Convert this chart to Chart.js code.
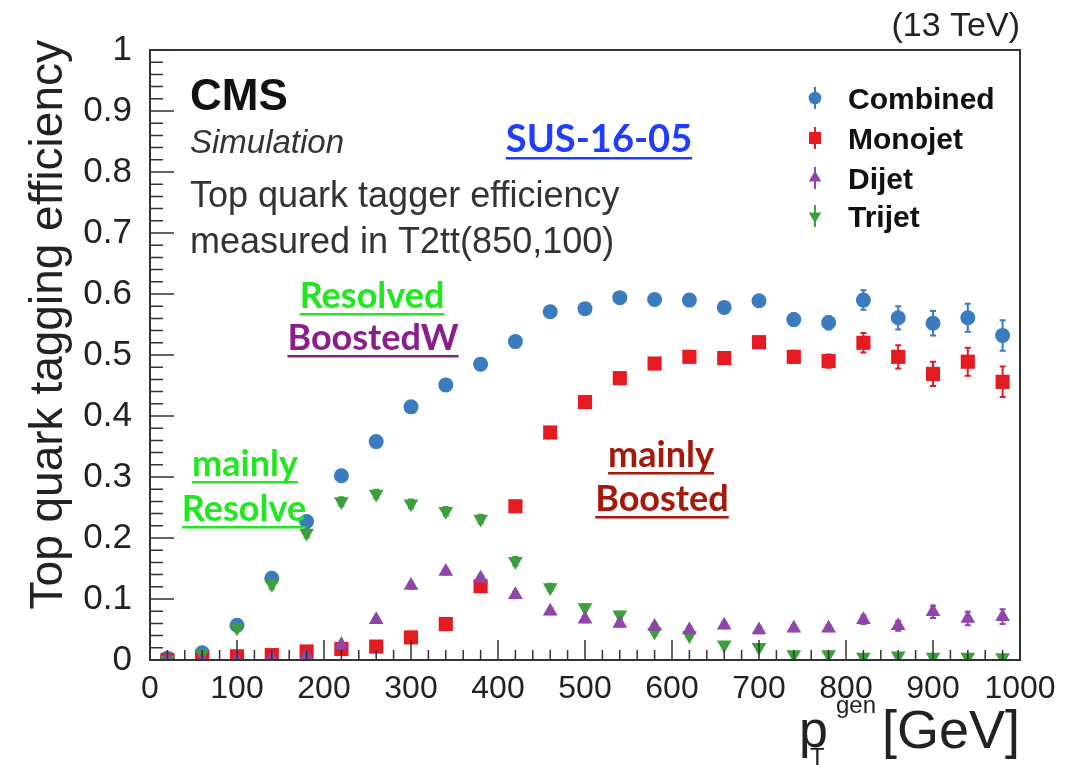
<!DOCTYPE html>
<html>
<head>
<meta charset="utf-8">
<title>Top quark tagging efficiency</title>
<script src="https://cdn.jsdelivr.net/npm/chart.js@4.4.0/dist/chart.umd.min.js"></script>
<style>
  html, body { margin: 0; padding: 0; background: #fff; }
  #wrap { width: 1075px; height: 765px; }
</style>
</head>
<body>
<div id="wrap"><canvas id="effChart" width="1075" height="765"></canvas></div>
<script>
// generator-level top pT bin centres (GeV)
const ptBins = [20, 60, 100, 140, 180, 220, 260, 300, 340, 380, 420, 460, 500,
                540, 580, 620, 660, 700, 740, 780, 820, 860, 900, 940, 980];

const combinedEff = [0.003, 0.012, 0.057, 0.134, 0.227, 0.302, 0.358, 0.415, 0.451, 0.485, 0.522, 0.571, 0.576,
                     0.594, 0.591, 0.590, 0.578, 0.589, 0.558, 0.553, 0.590, 0.561, 0.552, 0.561, 0.532];
const combinedErr = [0.002, 0.004, 0.006, 0.006, 0.007, 0.007, 0.007, 0.007, 0.007, 0.007, 0.007, 0.007, 0.007,
                     0.008, 0.008, 0.008, 0.009, 0.009, 0.010, 0.011, 0.016, 0.019, 0.020, 0.023, 0.025];

const monojetEff = [0.000, 0.001, 0.006, 0.008, 0.014, 0.018, 0.022, 0.037, 0.059, 0.121, 0.252, 0.373, 0.423,
                    0.462, 0.486, 0.497, 0.495, 0.521, 0.497, 0.490, 0.520, 0.497, 0.469, 0.489, 0.456];
const monojetErr = [0.001, 0.001, 0.002, 0.002, 0.003, 0.003, 0.003, 0.004, 0.005, 0.006, 0.007, 0.007, 0.007,
                    0.008, 0.008, 0.008, 0.009, 0.009, 0.010, 0.011, 0.016, 0.019, 0.020, 0.023, 0.025];

const dijetEff = [0.000, 0.000, 0.000, 0.003, 0.007, 0.025, 0.066, 0.122, 0.145, 0.134, 0.107, 0.080, 0.067,
                  0.060, 0.055, 0.049, 0.057, 0.049, 0.052, 0.052, 0.066, 0.056, 0.079, 0.068, 0.071];
const dijetErr = [0.001, 0.001, 0.001, 0.002, 0.002, 0.003, 0.004, 0.005, 0.005, 0.005, 0.005, 0.005, 0.005,
                  0.005, 0.005, 0.005, 0.005, 0.005, 0.005, 0.005, 0.007, 0.008, 0.010, 0.011, 0.012];

const trijetEff = [0.000, 0.011, 0.053, 0.124, 0.208, 0.260, 0.272, 0.256, 0.244, 0.231, 0.162, 0.119, 0.086,
                   0.074, 0.046, 0.040, 0.025, 0.021, 0.009, 0.009, 0.005, 0.007, 0.005, 0.005, 0.004];
const trijetErr = [0.001, 0.004, 0.006, 0.007, 0.007, 0.007, 0.007, 0.007, 0.007, 0.007, 0.007, 0.006, 0.005,
                   0.005, 0.004, 0.004, 0.004, 0.004, 0.003, 0.003, 0.003, 0.004, 0.004, 0.004, 0.004];

const seriesNames = ['Combined', 'Monojet', 'Dijet', 'Trijet'];

const xTickStep = 100;
const yTickStep = 0.1;

const FONT = "'Liberation Sans', Arial, Helvetica, sans-serif";
const NOTE_FONT = "Lato, 'Open Sans', sans-serif";

function points(vals) {
    return ptBins.map((x, i) => ({ x: x, y: vals[i] }));
}

const series = [
    { label: seriesNames[0], vals: combinedEff, errs: combinedErr, color: '#3b7bbf', style: 'circle',   radius: 7.5, rot: 0,   order: 3 },
    { label: seriesNames[1], vals: monojetEff,  errs: monojetErr,  color: '#e61b22', style: 'rect',     radius: 10,  rot: 0,   order: 2 },
    { label: seriesNames[2], vals: dijetEff,    errs: dijetErr,    color: '#8f45a9', style: 'triangle', radius: 8.5, rot: 0,   order: 0 },
    { label: seriesNames[3], vals: trijetEff,   errs: trijetErr,   color: '#3c9f3c', style: 'triangle', radius: 8.5, rot: 180, order: 1 }
];

const datasets = series.map(s => ({
    label: s.label,
    data: points(s.vals),
    errs: s.errs,
    showLine: false,
    pointStyle: s.style,
    pointRotation: s.rot,
    pointRadius: s.radius,
    pointHoverRadius: s.radius,
    pointBackgroundColor: s.color,
    pointBorderColor: s.color,
    pointBorderWidth: 0,
    order: s.order
}));

// vertical error bars, drawn under the markers
const errorBars = {
    id: 'errorBars',
    beforeDatasetsDraw(chart) {
        const ctx = chart.ctx;
        const xs = chart.scales.x, ys = chart.scales.y;
        ctx.save();
        chart.data.datasets.forEach((ds, di) => {
            ctx.strokeStyle = series[di].color;
            ctx.lineWidth = 2;
            ds.data.forEach((p, i) => {
                const e = ds.errs[i];
                const px = xs.getPixelForValue(p.x);
                const top = ys.getPixelForValue(Math.min(1, p.y + e));
                const bot = ys.getPixelForValue(Math.max(0, p.y - e));
                ctx.beginPath();
                ctx.moveTo(px, top); ctx.lineTo(px, bot);
                ctx.moveTo(px - 3, top); ctx.lineTo(px + 3, top);
                ctx.moveTo(px - 3, bot); ctx.lineTo(px + 3, bot);
                ctx.stroke();
            });
        });
        ctx.restore();
    }
};

// ROOT-like frame with inward ticks
const frame = {
    id: 'frame',
    afterDatasetsDraw(chart) {
        const ctx = chart.ctx;
        const a = chart.chartArea;
        const xs = chart.scales.x, ys = chart.scales.y;
        ctx.save();
        ctx.strokeStyle = '#333';
        ctx.lineWidth = 2;
        ctx.strokeRect(a.left, a.top, a.right - a.left, a.bottom - a.top);
        ctx.lineWidth = 1.5;
        ctx.beginPath();
        for (let k = 0; k <= 50; k++) {
            const px = xs.getPixelForValue(k * 20);
            const len = k % 5 === 0 ? 20 : 10;
            ctx.moveTo(px, a.bottom); ctx.lineTo(px, a.bottom - len);
        }
        for (let k = 0; k <= 50; k++) {
            const py = ys.getPixelForValue(k * 0.02);
            const len = k % 5 === 0 ? 24 : 13;
            ctx.moveTo(a.left, py); ctx.lineTo(a.left + len, py);
        }
        ctx.stroke();
        ctx.restore();
    }
};

function note(ctx, text, x, y, font, color, align, underline) {
    ctx.font = font;
    ctx.fillStyle = color;
    ctx.textAlign = align || 'left';
    ctx.textBaseline = 'alphabetic';
    ctx.fillText(text, x, y);
    if (underline) {
        const w = ctx.measureText(text).width;
        const x0 = align === 'center' ? x - w / 2 : (align === 'right' ? x - w : x);
        ctx.fillRect(x0, y + 5, w, 2.5);
    }
}

// titles, labels, legend
const decorations = {
    id: 'decorations',
    afterDraw(chart) {
        const ctx = chart.ctx;
        const a = chart.chartArea;
        ctx.save();

        // y axis title
        ctx.save();
        ctx.translate(62, a.top - 10);
        ctx.rotate(-Math.PI / 2);
        ctx.font = '46px ' + FONT;
        ctx.fillStyle = '#222';
        ctx.textAlign = 'right';
        ctx.textBaseline = 'alphabetic';
        ctx.fillText('Top quark tagging efficiency', 0, 0);
        ctx.restore();

        // x axis title: p_T^gen [GeV]
        ctx.fillStyle = '#222';
        ctx.textBaseline = 'alphabetic';
        ctx.textAlign = 'right';
        ctx.font = '54px ' + FONT;
        ctx.fillText('[GeV]', a.right, 748);
        ctx.textAlign = 'left';
        ctx.font = '52px ' + FONT;
        ctx.fillText('p', 799, 747);
        ctx.font = '24px ' + FONT;
        ctx.fillText('gen', 836, 713);
        ctx.fillText('T', 810, 765);

        note(ctx, '(13 TeV)', a.right, 36, '34px ' + FONT, '#222', 'right');
        note(ctx, 'CMS', 190, 110, 'bold 44px ' + FONT, '#111');
        note(ctx, 'Simulation', 190, 153, 'italic 33px ' + FONT, '#333');
        note(ctx, 'Top quark tagger efficiency', 190, 207, '36px ' + FONT, '#333');
        note(ctx, 'measured in T2tt(850,100)', 190, 253, '36px ' + FONT, '#333');

        note(ctx, 'SUS-16-05', 599, 152, 'bold 38px ' + NOTE_FONT, '#1f3cff', 'center', true);
        note(ctx, 'Resolved', 372, 308, 'bold 36px ' + NOTE_FONT, '#1fe81f', 'center', true);
        note(ctx, 'BoostedW', 373, 350, 'bold 36px ' + NOTE_FONT, '#8a1f8c', 'center', true);
        note(ctx, 'mainly', 245, 476, 'bold 36px ' + NOTE_FONT, '#1fe81f', 'center', true);
        note(ctx, 'Resolve', 244, 521, 'bold 36px ' + NOTE_FONT, '#1fe81f', 'center', true);
        note(ctx, 'mainly', 661, 467, 'bold 36px ' + NOTE_FONT, '#a5190b', 'center', true);
        note(ctx, 'Boosted', 662, 511, 'bold 36px ' + NOTE_FONT, '#a5190b', 'center', true);

        // legend
        const rows = [98, 138, 178, 216];
        series.forEach((s, i) => {
            const y = rows[i];
            ctx.strokeStyle = s.color;
            ctx.fillStyle = s.color;
            ctx.lineWidth = 2;
            ctx.beginPath();
            ctx.moveTo(815, y - 11); ctx.lineTo(815, y + 11);
            ctx.stroke();
            Chart.helpers.drawPoint(ctx, {
                pointStyle: s.style, rotation: s.rot, radius: s.radius * 0.85, borderWidth: 0
            }, 815, y);
            note(ctx, s.label, 848, y + 11, 'bold 30px ' + FONT, '#111');
        });

        ctx.restore();
    }
};

new Chart(document.getElementById('effChart').getContext('2d'), {
    type: 'scatter',
    data: { datasets: datasets },
    options: {
        responsive: false,
        devicePixelRatio: 1,
        animation: false,
        layout: { padding: { top: 50, right: 55, left: 0, bottom: 0 } },
        plugins: { legend: { display: false }, tooltip: { enabled: false } },
        scales: {
            x: {
                type: 'linear', min: 0, max: 1000,
                afterFit(s) { s.height = 105; },
                grid: { display: false }, border: { display: false },
                ticks: {
                    stepSize: xTickStep, autoSkip: false, maxRotation: 0, padding: 2,
                    color: '#222', font: { family: FONT, size: 32 },
                    callback: v => String(v)
                }
            },
            y: {
                min: 0, max: 1,
                afterFit(s) { s.width = 150; },
                grid: { display: false }, border: { display: false },
                ticks: {
                    stepSize: yTickStep, autoSkip: false, padding: 10,
                    color: '#222', font: { family: FONT, size: 35 },
                    callback: v => String(Number(v.toFixed(1)))
                }
            }
        }
    },
    plugins: [errorBars, frame, decorations]
});
</script>
</body>
</html>
